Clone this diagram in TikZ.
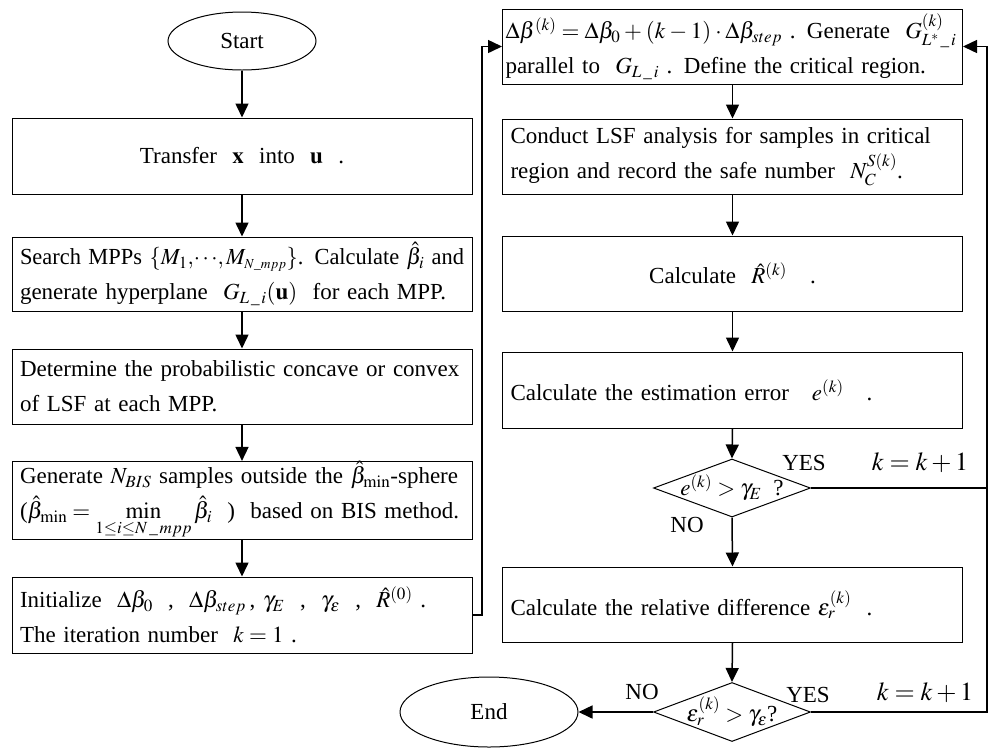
\documentclass[tikz,border=0pt]{standalone}
\usepackage{graphicx}
\usepackage{amsmath}
\usepackage{mathptmx}
\usepackage{fontspec}
\setmainfont{Liberation Serif}
\usetikzlibrary{arrows.meta,shapes.geometric}
\newcommand\myfnt{\fontsize{23}{35}\selectfont}
\newcommand\kfnt{\fontsize{26}{32}\selectfont}
\newcommand\usc{\,\_\,}
\newsavebox\fitbox
\newcommand\fitline[2]{\sbox\fitbox{#2}\ifdim\wd\fitbox>#1\resizebox{#1}{\height}{\usebox\fitbox}\else\usebox\fitbox\fi}
\begin{document}
\begin{tikzpicture}[x=1pt,y=-1pt,
  box/.style={draw, line width=1pt, rectangle, inner xsep=8pt, inner ysep=0pt,
    text width=444pt, align=left, font=\myfnt},
  cbox/.style={box, align=center},
  term/.style={draw, line width=1pt, ellipse, inner sep=0pt, font=\myfnt},
  dec/.style={draw, line width=1pt, diamond, inner sep=0pt, minimum width=157pt, minimum height=58pt},
  conn/.style={line width=1.5pt, -{Triangle[length=14pt,width=13pt]}},
  plain/.style={line width=1.5pt},
  lbl/.style={font=\myfnt, inner sep=0pt},
  klbl/.style={font=\kfnt, inner sep=0pt}]
\useasboundingbox (0,0) rectangle (990,748);

% left column
\node[term, minimum width=148pt, minimum height=58pt] (start) at (242,41) {Start};
\node[cbox, minimum height=76pt] (l1) at (242,156) {Transfer \ $\mathbf{x}$ \ into \ $\mathbf{u}$ \ .};
\node[box, minimum height=74pt] (l2) at (242,274) {\fitline{444pt}{Search MPPs $\{M_1,\!\cdots\!,M_{\scriptscriptstyle N\_mpp}\}$. Calculate $\hat{\beta}_i$ and}\\generate hyperplane \ $G_{L\usc i}(\mathbf{u})$ \ for each MPP.};
\node[box, minimum height=75pt] (l3) at (242,386.5) {Determine the probabilistic concave or convex\\of LSF at each MPP.};
\node[box, minimum height=75pt] (l4) at (242,500.5) {\fitline{444pt}{Generate $N_{BIS}$ samples outside the $\hat{\beta}_{\min}$-sphere}\\\mbox{($\hat{\beta}_{\min}=\min\limits_{1\le i\le N\usc mpp}\hat{\beta}_i$ \ ) \ based on BIS method.}};
\node[box, minimum height=76pt] (l5) at (242,615) {Initialize \ $\Delta\beta_0$ \ , \ $\Delta\beta_{step}$\,, $\gamma_E$ \ , \ $\gamma_\varepsilon$ \ , \ $\hat{R}^{(0)}$ .\\The iteration number \ $k=1$ .};
\node[term, minimum width=178pt, minimum height=70pt] (end) at (489,712) {End};

% right column
\node[box, inner xsep=3pt, text width=454pt, minimum height=75pt] (r1) at (732.5,46.5) {\fitline{454pt}{\medmuskip=3mu\thickmuskip=4mu$\Delta\beta^{(k)}=\Delta\beta_0+(k-1)\cdot\Delta\beta_{step}$ . Generate \ $G^{(k)}_{L^{*}\usc i}$}\\ parallel to \ $G_{L\usc i}$ . Define the critical region.};
\node[box, minimum height=75pt] (r2) at (732.5,156.5) {Conduct LSF analysis for samples in critical\\region and record the safe number \ $N_C^{S(k)}$.};
\node[cbox, minimum height=75pt] (r3) at (732.5,273.5) {Calculate \ $\hat{R}^{(k)}$ \ \ .};
\node[box, minimum height=76pt] (r4) at (732.5,390) {Calculate the estimation error \ \ $e^{(k)}$ \ \ .};
\node[dec] (d1) at (732,488) {};
\node[lbl] at (d1) {$e^{(k)}>\gamma_E$ \ ?};
\node[box, minimum height=75pt] (r5) at (732.5,604.5) {Calculate the relative difference $\varepsilon_r^{(k)}$ \ .};
\node[dec, minimum height=59pt] (d2) at (732,712) {};
\node[lbl] at (d2) {$\varepsilon_r^{(k)}>\gamma_\varepsilon$?};

% labels
\node[lbl] (yes1) at (804,463) {YES};
\node[lbl] (no1) at (687,525) {NO};
\node[lbl] (yes2) at (808,695) {YES};
\node[lbl] (no2) at (642,692) {NO};
\node[klbl] (k1) at (920,463) {$k=k+1$};
\node[klbl] (k2) at (925,693) {$k=k+1$};

% coordinates for routing
\coordinate (la) at (482,615);
\coordinate (lb) at (482,46.5);
\coordinate (ra) at (987,712);
\coordinate (rb) at (987,46.5);
\coordinate (rj) at (987,488);

% connectors
\draw[conn] (start) -- (l1);
\draw[conn] (l1) -- (l2);
\draw[conn] (l2) -- (l3);
\draw[conn] (l3) -- (l4);
\draw[conn] (l4) -- (l5);
\draw[conn] (l5.east) -- (la) -- (lb) -- (r1.west);
\draw[conn] (r1) -- (r2);
\draw[conn] (r2) -- (r3);
\draw[conn] (r3) -- (r4);
\draw[conn] (r4.south) -- (d1.north);
\draw[conn] (d1.south) -- (r5.north);
\draw[conn] (r5.south) -- (d2.north);
\draw[conn] (d2.west) -- (end.east);
\draw[plain] (d1.east) -- (rj);
\draw[conn] (d2.east) -- (ra) -- (rb) -- (r1.east);
\end{tikzpicture}
\end{document}
